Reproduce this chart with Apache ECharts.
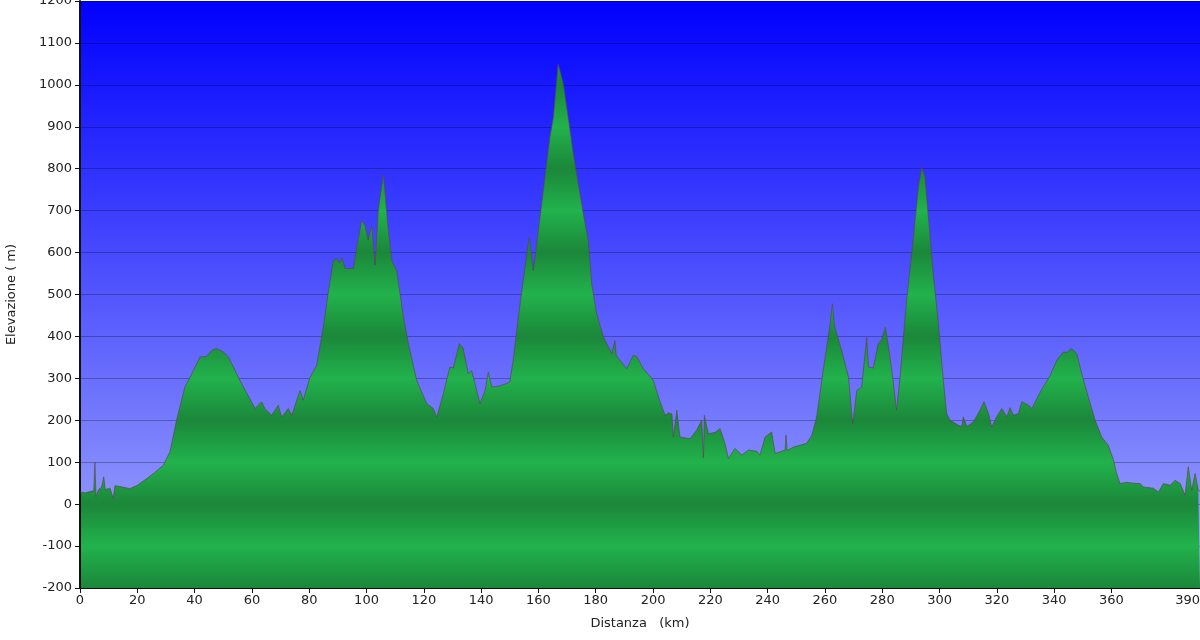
<!DOCTYPE html>
<html lang="it">
<head>
    <meta http-equiv="Content-Type" content="text/html;charset=utf-8">
    <script type="text/javascript" src="https://cdn.jsdelivr.net/npm/echarts@6/dist/echarts.min.js"></script>
    <title>Profilo altimetrico</title>
    <style>
        html, body { margin: 0; padding: 0; background: #fff; }
        #main { width: 1200px; height: 640px; }
    </style>
</head>
<body>
<div id="main"></div>
<script>
    var distanza = [
        0, 2, 3.5, 4.8, 5.2, 5.6, 6.5, 7.5, 8.3, 8.8, 10.5, 11.6, 12.2, 14, 17.4, 20, 23.3, 26, 29.1, 31.4,
        33.7, 36.6, 39.6, 41.9, 44.2, 46, 47.7, 50, 51.8, 55.8, 61.1, 63.4, 64.5, 66.9, 69.2, 70.4, 72.7, 73.9, 76.8, 77.9,
        80.3, 82.6, 84.9, 86.6, 88.4, 89.6, 90.5, 91.5, 92.5, 95.4, 96.6, 98.3, 99.5, 100.6, 101.8, 103, 104.1, 105.9, 107.5, 108.8,
        110.5, 112.9, 114.6, 117.5, 121, 123.3, 124.5, 126.8, 129.1, 130.3, 132.4, 133.7, 135.5, 136.7, 139.6, 141.4, 142.5, 143.7, 146.6, 150,
        151.2, 153, 155.3, 156.8, 158.2, 159.4, 161.7, 164, 165.2, 166.9, 168.7, 170.4, 172.2, 173.9, 176.3, 177.4, 178.6, 180.3, 182.7, 185.6,
        186.7, 187.1, 190.8, 193.1, 194.3, 196.6, 200.1, 201.9, 204.2, 205.4, 206.6, 207.1, 208.3, 209.4, 212.9, 215.2, 217, 217.6, 217.9, 219.3,
        221.6, 223.4, 225.1, 226.3, 228.6, 231, 233.3, 236.2, 237.3, 239.1, 241.4, 242.6, 246.1, 246.4, 246.8, 249, 253.6, 255.4, 257.1, 259.4,
        261.8, 262.6, 263.3, 265.8, 268.2, 269.7, 271.1, 272.8, 274.6, 275.2, 276.9, 278.6, 279.7, 281.1, 282.7, 283.9, 285, 286.2, 288.5, 290.9,
        292.6, 293.8, 294.9, 296.1, 297.8, 299.6, 301.3, 302.5, 303.7, 306.6, 307.8, 308.3, 309.5, 311.8, 314.1, 315.5, 317.1, 318.2, 319.9, 321.7,
        323.5, 324.6, 325.8, 327.5, 328.7, 331.1, 332.2, 335.1, 338.6, 340.9, 343.2, 344.5, 346.1, 347.9, 349.6, 351.9, 354.3, 356.6, 358.9, 360.7,
        361.8, 363, 365.3, 367.7, 370, 371.1, 374.6, 376.4, 378.1, 380.5, 382.2, 384, 385.7, 386.8, 388, 389.2, 390.3, 390.9
    ];
    var quota = [
        29, 27, 30, 32, 100, 18, 35, 40, 65, 35, 38, 14, 44, 42, 37, 45, 61, 75, 93, 125,
        200, 279, 319, 351, 352, 367, 371, 363, 351, 295, 228, 244, 228, 212, 236, 208, 228, 212, 271, 248,
        303, 331, 422, 502, 581, 586, 575, 588, 562, 562, 613, 676, 664, 629, 664, 570, 700, 787, 660, 581,
        557, 446, 383, 295, 240, 228, 208, 263, 327, 325, 383, 372, 311, 318, 240, 271, 315, 279, 282, 291,
        343, 446, 565, 637, 557, 621, 748, 875, 922, 1049, 1002, 922, 835, 764, 668, 629, 525, 454, 398, 359,
        390, 355, 323, 355, 352, 323, 295, 256, 212, 218, 215, 160, 224, 160, 156, 176, 200, 110, 212, 168,
        171, 180, 145, 109, 133, 117, 129, 126, 117, 160, 172, 121, 129, 165, 128, 136, 145, 164, 208, 319,
        430, 478, 425, 367, 303, 192, 271, 279, 398, 327, 325, 383, 391, 422, 351, 287, 224, 303, 486, 637,
        756, 803, 780, 684, 549, 430, 295, 216, 200, 188, 185, 208, 185, 196, 224, 244, 216, 184, 208, 228,
        208, 230, 212, 216, 244, 236, 228, 267, 307, 343, 363, 362, 371, 359, 311, 256, 200, 160, 140, 105,
        73, 49, 52, 50, 49, 41, 38, 29, 49, 45, 57, 49, 21, 89, 33, 73, 33, 30
    ];
    var xTicks = [0, 20, 40, 60, 80, 100, 120, 140, 160, 180, 200, 220, 240, 260, 280, 300, 320, 340, 360];
    var xLabels = [0, 20, 40, 60, 80, 100, 120, 140, 160, 180, 200, 220, 240, 260, 280, 300, 320, 340, 360, 390.9];

    var gridTop = 1, gridBottom = 52;
    var yMin = -200, yMax = 1200, yStep = 100;

    function draw() {
        var myChart = echarts.init(document.getElementById('main'));

        // bande verdi alternate ogni 100 m (scure sulle centinaia pari)
        var n = (yMax - yMin) / yStep;
        var stops = [];
        for (var i = 0; i <= n; i++) {
            var level = yMax - i * yStep;
            stops.push({offset: i / n, color: (level / yStep) % 2 === 0 ? '#1b873a' : '#22b24c'});
        }

        var option = {
            animation: false,
            textStyle: {fontFamily: 'DejaVu Sans'},
            grid: {
                left: 80, right: 0, top: gridTop, bottom: gridBottom,
                outerBoundsMode: 'none',
                containLabel: false,
                show: true,
                borderWidth: 0,
                backgroundColor: {
                    type: 'linear', x: 0, y: 0, x2: 0, y2: 1,
                    colorStops: [{offset: 0, color: '#0000ff'}, {offset: 1, color: '#a4acfb'}]
                }
            },
            xAxis: {
                type: 'value',
                min: 0,
                max: 390.9,
                name: 'Distanza   (km)',
                nameLocation: 'middle',
                nameGap: 29,
                nameTextStyle: {color: '#222', fontSize: 13},
                axisLine: {show: true, onZero: false, lineStyle: {color: '#111', width: 2}},
                axisTick: {show: true, length: 5, customValues: xTicks, lineStyle: {color: '#111'}},
                axisLabel: {
                    color: '#222', fontSize: 13, margin: 6,
                    customValues: xLabels,
                    alignMaxLabel: 'right',
                    formatter: function (v) { return String(Math.floor(v)); }
                },
                splitLine: {show: false}
            },
            yAxis: {
                type: 'value',
                min: yMin,
                max: yMax,
                interval: yStep,
                z: 3,
                name: 'Elevazione ( m)',
                nameLocation: 'middle',
                nameGap: 62,
                nameTextStyle: {color: '#222', fontSize: 13},
                axisLine: {show: true, lineStyle: {color: '#111', width: 2}},
                axisTick: {show: true, length: 5, lineStyle: {color: '#111'}},
                axisLabel: {
                    color: '#222', fontSize: 13, margin: 8,
                    formatter: function (v) { return String(v); }
                },
                splitLine: {show: true, lineStyle: {color: 'rgba(0,0,0,0.28)', width: 1}}
            },
            series: [{
                type: 'line',
                showSymbol: false,
                data: distanza.map(function (d, i) { return [d, quota[i]]; }),
                lineStyle: {color: 'rgba(90,70,70,0.65)', width: 1},
                areaStyle: {
                    origin: 'start',
                    opacity: 1,
                    color: {
                        type: 'linear', global: true,
                        x: 0, y: gridTop, x2: 0, y2: 640 - gridBottom,
                        colorStops: stops
                    }
                }
            }]
        };
        myChart.setOption(option);
    }

    draw();
</script>
</body>
</html>
